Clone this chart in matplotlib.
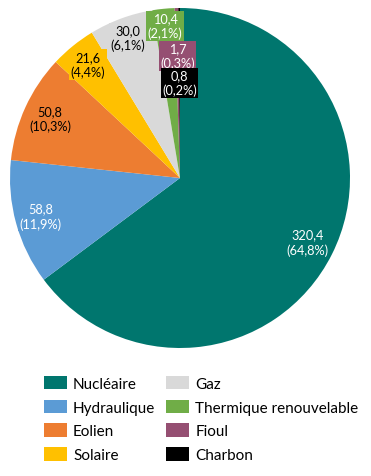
import numpy as np
import matplotlib; matplotlib.use("Agg")
import matplotlib.pyplot as plt

# production par filière (TWh)
labels = ["Nucléaire", "Hydraulique", "Eolien", "Solaire", "Gaz",
          "Thermique renouvelable", "Fioul", "Charbon"]
values = [320.4, 58.8, 50.8, 21.6, 30.0, 10.4, 1.7, 0.8]

colors = ["#00766E", "#5B9BD5", "#ED7D31", "#FFC000", "#D9D9D9",
          "#70AD47", "#954F72", "#000000"]
text_colors = ["white", "white", "black", "black", "black", "white", "white", "white"]
label_r = [0.84, 0.85, 0.84, 0.86, 0.88, 0.90, 0.72, 0.56]

plt.rcParams['font.family'] = ['Lato', 'DejaVu Sans']

W, H = 371, 477
fig = plt.figure(figsize=(W / 100, H / 100), dpi=100)
cx, cy, R = 180, 179, 170
ax = fig.add_axes([(cx - R) / W, (H - cy - R) / H, 2 * R / W, 2 * R / H])
wedges, _ = ax.pie(values, colors=colors, startangle=90, counterclock=False,
                   radius=1.0, wedgeprops=dict(linewidth=0))
ax.set_xlim(-1, 1); ax.set_ylim(-1, 1); ax.set_aspect("equal"); ax.axis("off")

total = sum(values)
for w, v, tc, r, col in zip(wedges, values, text_colors, label_r, colors):
    mid = np.deg2rad((w.theta1 + w.theta2) / 2)
    x, y = r * np.cos(mid), r * np.sin(mid)
    txt = f"{v:.1f}".replace(".", ",") + "\n(" + f"{100 * v / total:.1f}".replace(".", ",") + "%)"
    ax.text(x, y, txt, ha="center", va="center", color=tc, fontsize=9.2,
            linespacing=1.25,
            bbox=dict(boxstyle="square,pad=0.12", fc=col, ec="none"))

fig.legend(wedges, labels, ncol=2, loc="upper left",
           bbox_to_anchor=(44 / W, 1 - 377 / H), frameon=False, fontsize=11,
           handlelength=1.5, handleheight=0.98, handletextpad=0.4,
           labelspacing=0.57, columnspacing=0.72, borderpad=0, borderaxespad=0)

fig.savefig("out.png", dpi=100)
